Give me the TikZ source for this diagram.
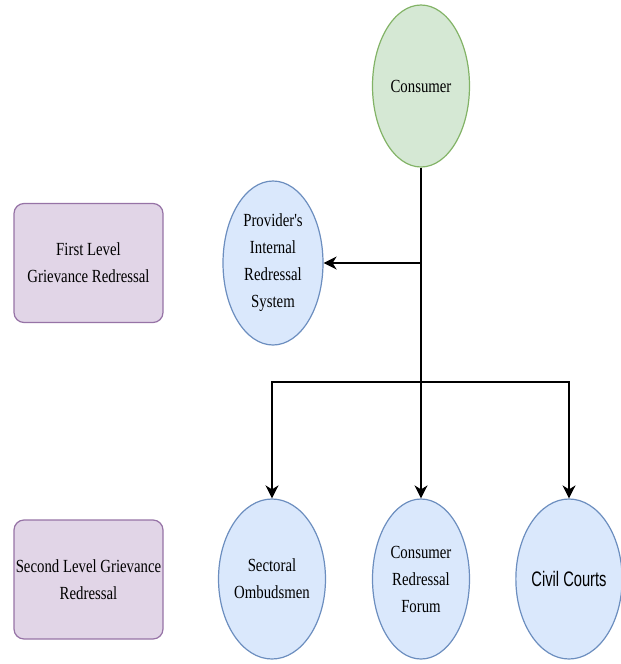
\documentclass[tikz,border=0pt]{standalone}
\usepackage{fontspec}
\usepackage{tikz}
\usetikzlibrary{arrows.meta,shapes.geometric}
\usepackage{xcolor}
\newfontfamily\condserif{Liberation Serif}[FakeStretch=0.8]
\newfontfamily\condsans{Liberation Sans}[FakeStretch=0.7]
\definecolor{greenfill}{HTML}{D5E8D4}
\definecolor{greenline}{HTML}{82B366}
\definecolor{bluefill}{HTML}{DAE8FC}
\definecolor{blueline}{HTML}{6C8EBF}
\definecolor{purplefill}{HTML}{E1D5E7}
\definecolor{purpleline}{HTML}{9673A6}

\begin{document}
\begin{tikzpicture}[x=1pt,y=-1pt]

        \tikzset{
            body/.style={draw, ellipse, line width=1.2pt, minimum width=97pt, minimum height=160pt,
                         inner sep=0pt, align=center, font={\condserif\fontsize{18.5}{27}\selectfont}},
            body_consumer/.style={body, fill=greenfill, draw=greenline, minimum height=162pt},
            body_redress/.style={body, fill=bluefill, draw=blueline},
            level_box/.style={draw=purpleline, fill=purplefill, line width=1.2pt, rounded corners=10pt,
                              minimum width=149pt, minimum height=119pt, inner sep=0pt, align=center,
                              font={\condserif\fontsize{18.5}{27}\selectfont}},
            connect/.style={-{Stealth[length=13pt, width=13pt, inset=4pt]}, line width=1.8pt}
        }

        \useasboundingbox (0,0) rectangle (621,664);

        \node[level_box] (first) at (88.5, 263) {First Level\\Grievance Redressal};
        \node[level_box] (second) at (88.5, 579.5) {Second Level Grievance\\Redressal};

        \node[body_consumer] (consumer) at (421, 86) {Consumer};
        \node[body_redress, minimum width=100pt, minimum height=164pt] (provider) at (273, 263)
            {Provider's\\Internal\\Redressal\\System};

        \node[body_redress] (ombuds) at (272, 579) {Sectoral\\Ombudsmen};
        \node[body_redress] (forum) at (421, 579) {Consumer\\Redressal\\Forum};
        \node[body_redress, font={\condsans\fontsize{21}{27}\selectfont}] (courts) at (569, 579) {Civil Courts};

        \coordinate (branch) at (consumer.south |- provider.east);
        \coordinate (split) at (consumer.south |- 0,382);

        \draw[line width=1.8pt] (consumer) -- (split);
        \draw[connect] (branch) -- (provider);

        \draw[connect] (split) -| (ombuds);
        \draw[connect] (split) -- (forum);
        \draw[connect] (split) -| (courts);

    \end{tikzpicture}
\end{document}
